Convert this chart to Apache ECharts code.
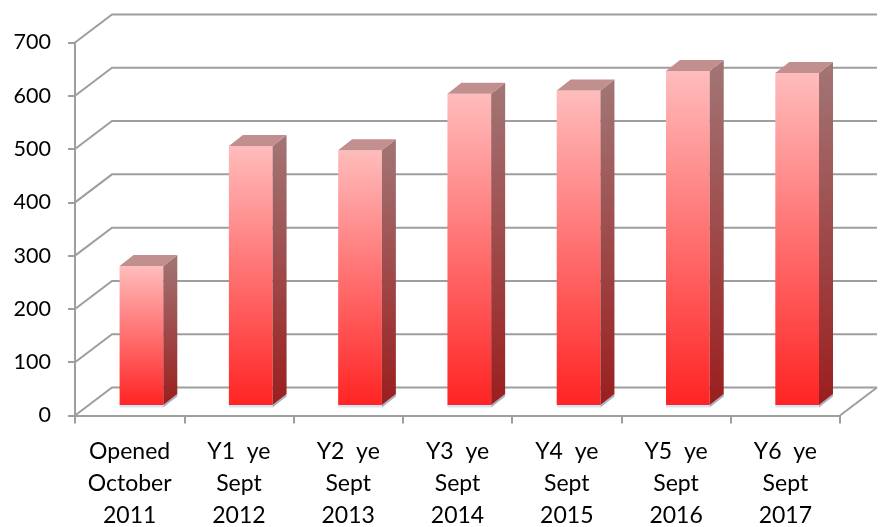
<!DOCTYPE html>
<html><head><meta charset="utf-8">
<script src="https://cdn.jsdelivr.net/npm/echarts@6/dist/echarts.min.js"></script>
<style>html,body{margin:0;padding:0;background:#fff}#c{width:889px;height:527px}</style>
</head><body><div id="c"></div>
<script>
const categories = ['Opened\nOctober\n2011', 'Y1  ye\nSept\n2012', 'Y2  ye\nSept\n2013', 'Y3  ye\nSept\n2014', 'Y4  ye\nSept\n2015', 'Y5  ye\nSept\n2016', 'Y6  ye\nSept\n2017'];
const values = [261, 486, 478, 584, 590, 627, 623];
const yTicks = [0, 100, 200, 300, 400, 500, 600, 700];

const GRID = '#9e9e9e';
const DX = 37, DY = 28;          // back wall depth offset
const FX = 11.8, FY = 10.5;      // bar front plane offset
const BDX = 14, BDY = 11;        // bar depth

function renderWall(params, api) {
  const v = api.value(1);
  const cs = params.coordSys;
  const y = api.coord([0, v])[1];
  const x0 = cs.x, x1 = cs.x + cs.width;
  const st = { stroke: GRID, lineWidth: 2, fill: null };
  const children = [{ type: 'polyline', shape: { points: [[x0, y], [x0 + DX, y - DY], [x1 + DX, y - DY]] }, style: st }];
  if (v === 0) children.push({ type: 'polyline', shape: { points: [[x1, y], [x1 + DX, y - DY]] }, style: st });
  return { type: 'group', children };
}

function renderBar(params, api) {
  const i = api.value(0), v = api.value(1);
  const top = api.coord([i, v]), base = api.coord([i, 0]);
  const bw = api.size([1, 0])[0] * 0.4;
  const xl = top[0] - bw / 2 + FX, xr = xl + bw;
  const yt = top[1] - FY, yb = base[1] - FY;
  const lg = (a, b) => ({ type: 'linear', x: 0, y: 0, x2: 0, y2: 1, colorStops: [{ offset: 0, color: a }, { offset: 1, color: b }] });
  return {
    type: 'group',
    children: [
      { type: 'polygon', shape: { points: [[xl, yb], [xr, yb], [xr, yb + 2.5], [xl, yb + 2.5]] }, style: { fill: '#d9e4f6' } },
      { type: 'polygon', shape: { points: [[xr, yb], [xr + BDX, yb - BDY], [xr + BDX, yb - BDY + 2.5], [xr, yb + 2.5]] }, style: { fill: '#a9b3c6' } },
      { type: 'rect', shape: { x: xl, y: yt, width: bw, height: yb - yt }, style: { fill: lg('#ffbcbc', '#ff2424') } },
      { type: 'polygon', shape: { points: [[xr, yt], [xr + BDX, yt - BDY], [xr + BDX, yb - BDY], [xr, yb]] }, style: { fill: lg('#a27676', '#9b1e1e') } },
      { type: 'polygon', shape: { points: [[xl, yt], [xr, yt], [xr + BDX, yt - BDY], [xl + BDX, yt - BDY]] }, style: { fill: '#c28f8f' } }
    ]
  };
}

const chart = echarts.init(document.getElementById('c'));
chart.setOption({
  animation: false,
  backgroundColor: '#fff',
  grid: { left: 75, right: 49, top: 42.5, bottom: 111.5, outerBoundsMode: 'none', containLabel: false },
  xAxis: {
    type: 'category', data: categories, boundaryGap: true,
    axisLine: { show: true, lineStyle: { color: GRID, width: 2 } },
    axisTick: { show: true, length: 8, alignWithLabel: false, lineStyle: { color: GRID, width: 2 } },
    axisLabel: { interval: 0, fontSize: 23, lineHeight: 32, margin: 20, color: '#000', fontFamily: 'Lato' },
    splitLine: { show: false }
  },
  yAxis: {
    type: 'value', min: 0, max: 700, interval: 100,
    axisLine: { show: true, lineStyle: { color: GRID, width: 2 } },
    axisTick: { show: true, length: 7, lineStyle: { color: GRID, width: 2 } },
    axisLabel: { fontSize: 21.5, margin: 24, color: '#000', fontFamily: 'Lato' },
    splitLine: { show: false }
  },
  series: [
    { type: 'custom', renderItem: renderWall, data: yTicks.map(v => [0, v]), z: 1, silent: true },
    { type: 'custom', renderItem: renderBar, data: values.map((v, i) => [i, v]), z: 3 }
  ]
});
</script>
</body></html>
